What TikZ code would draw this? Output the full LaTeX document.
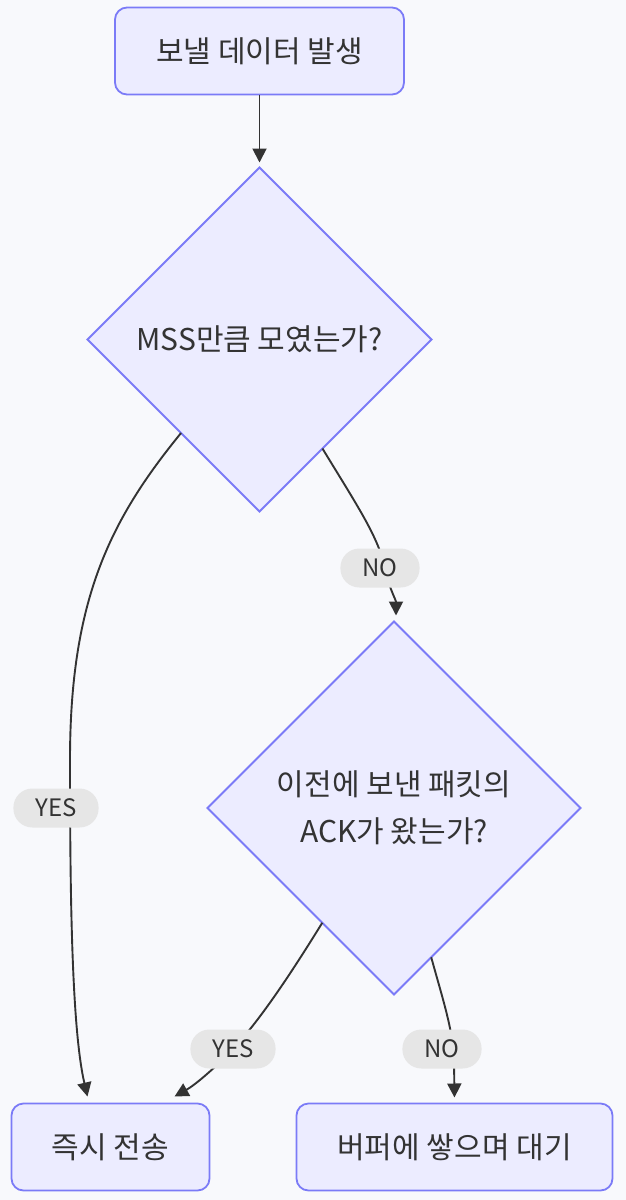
\documentclass[tikz,border=0pt]{standalone}
\usepackage{fontspec}
\setmainfont{Noto Sans CJK KR}
\usetikzlibrary{arrows.meta,positioning,shapes.geometric}
\definecolor{pagebg}{HTML}{F8F9FC}
\definecolor{nodefill}{HTML}{ECECFF}
\definecolor{nodeline}{HTML}{7B7BF7}
\definecolor{txt}{HTML}{333333}
\definecolor{lblfill}{HTML}{E6E6E6}
\tikzset{
  stepbox/.style={rectangle,rounded corners=12pt,draw=nodeline,line width=1.8pt,
    fill=nodefill,text=txt,align=center,font=\fontsize{30}{36}\selectfont,
    minimum height=87pt,inner sep=0pt,outer sep=0pt},
  askbox/.style={diamond,aspect=1,draw=nodeline,line width=1.8pt,
    fill=nodefill,text=txt,align=center,font=\fontsize{30}{47}\selectfont,
    inner sep=0pt,outer sep=0pt},
  flowarr/.style={-{Triangle[length=14pt,width=14pt]},line width=1.9pt,color=txt},
  flowlbl/.style={rectangle,rounded corners=19pt,fill=lblfill,text=txt,
    font=\fontsize{24}{28}\selectfont,minimum height=39pt,inner xsep=22pt},
}

\begin{document}
\begin{tikzpicture}[x=1pt,y=-1pt]
  \fill[pagebg] (0,0) rectangle (626,1200);

  \node[stepbox,minimum width=289pt] (start) at (259.5,51) {보낼 데이터 발생};
  \node[askbox,minimum width=344pt,minimum height=344pt,below=73pt of start] (mss) {MSS만큼 모였는가?};
  \node[askbox,minimum width=373pt,minimum height=373pt,below=110pt of mss,xshift=134.5pt] (ack) {이전에 보낸 패킷의\\ACK가 왔는가?};
  \node[stepbox,minimum width=316pt,below=109pt of ack,xshift=60.5pt] (wait) {버퍼에 쌓으며 대기};
  \node[stepbox,minimum width=198pt,left=87pt of wait] (send) {즉시 전송};

  \coordinate (yesleft) at (56,808);
  \coordinate (noup) at (380,568);
  \coordinate (yesdown) at (233,1049);
  \coordinate (nodown) at (442,1049);

  \draw[flowarr] (start) -- ([yshift=5pt]mss.north);
  \draw[flowarr] (mss.230) .. controls (110,520) and (70,600) .. (70,760)
    .. controls (70,900) and (72,1030) .. ([xshift=-23pt,yshift=7pt]send.north);
  \draw[flowarr] (mss.300) .. controls (360,510) and (380,540) .. (385,570)
    .. controls (390,590) and (396,600) .. ([xshift=2pt,yshift=6pt]ack.north);
  \draw[flowarr] (ack.238) .. controls (290,975) and (260,1020) .. (yesdown)
    .. controls (215,1068) and (195,1085) .. ([xshift=-35pt,yshift=7pt]send.north east);
  \draw[flowarr] (ack.284) .. controls (443,1000) and (453,1030) .. (454,1060)
    -- ([yshift=6pt]wait.north);

  \node[flowlbl] (lyes1) at (yesleft) {YES};
  \node[flowlbl] (lno1) at (noup) {NO};
  \node[flowlbl] (lyes2) at (yesdown) {YES};
  \node[flowlbl] (lno2) at (nodown) {NO};
\end{tikzpicture}
\end{document}
